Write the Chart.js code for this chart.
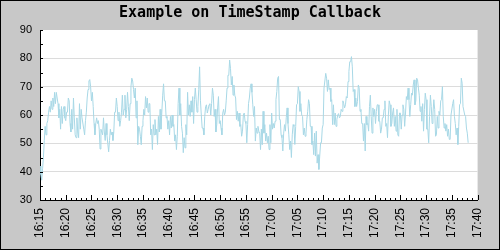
<!DOCTYPE html>
<html>
<head>
<meta charset="utf-8">
<script src="https://cdn.jsdelivr.net/npm/chart.js@4.4.1/dist/chart.umd.min.js"></script>
<style>
  html, body { margin: 0; padding: 0; background: #c8c8c8; }
  canvas { display: block; }
</style>
</head>
<body>
<canvas id="chart" width="500" height="250"></canvas>
<script>
const titleText = "Example on TimeStamp Callback";

// one reading every 10 seconds, starting at 16:15:00
const stepSeconds = 10;
const xTickLabels = ["16:15", "16:20", "16:25", "16:30", "16:35", "16:40", "16:45", "16:50", "16:55",
  "17:00", "17:05", "17:10", "17:15", "17:20", "17:25", "17:30", "17:35", "17:40"];
const yTickValues = [30, 40, 50, 60, 70, 80, 90];

// 16:15 - 16:36
const valuesPart1 = [
  42, 39, 37, 41, 45, 51, 56, 53, 57, 58, 61, 63, 61, 65, 62, 66, 63, 68, 64, 68,
  66, 64, 59, 62, 55, 63, 57, 62, 63, 59, 58, 61, 61, 66, 65, 57, 54, 62, 55, 66,
  59, 53, 52, 59, 54, 52, 64, 55, 62, 59, 59, 55, 53, 58, 61, 66, 69, 72, 72.5, 70,
  65, 68, 63, 57, 53, 57, 59, 57, 58, 55, 48, 55, 54, 53, 59, 54, 51, 57, 53, 50,
  47, 51, 55, 53, 54, 51, 54, 61, 61, 66, 63, 58, 61, 56, 58, 61, 67, 60, 62, 67,
  59, 62, 68, 63, 58, 64, 70, 73, 72, 69, 66, 69.5, 59, 65, 49.5, 56, 55, 52.5, 49.5, 56,
  58, 62, 60, 66.5, 62.5, 66, 61, 64
];
// 16:36 - 16:57
const valuesPart2 = [
  64, 53, 55, 47.8, 56.6, 53, 58.4, 53, 55, 49.6, 59.5, 54, 62, 55, 61, 67, 71, 65, 65, 59,
  59.5, 55, 58, 53, 59.5, 55.4, 60, 56, 56.6, 50.8, 53, 47.8, 52.5, 64, 69.5, 60, 64, 56, 53.6, 46.7,
  52, 48.4, 56.6, 53, 68, 60, 63.6, 59.5, 65, 61, 66.5, 57, 65.4, 69.5, 65.4, 61, 63, 69, 77, 65,
  60, 55.4, 55.4, 53, 59.5, 63, 63.6, 60.7, 62, 63.6, 64, 60, 64, 69.5, 67, 59.5, 62, 54, 56.6, 62.5,
  66.5, 57, 58, 55.4, 53, 60.7, 62, 60, 61, 65, 69.5, 74, 74, 79.4, 76.5, 70.6, 73.6, 67, 70.6, 67,
  66, 58.4, 61.3, 57.8, 60.7, 56, 56.6, 52.5, 54.3, 60, 60.7, 57.8, 57, 50.2, 56.6, 64, 66, 69.5, 71, 68,
  63.6, 59.5, 63, 50.8, 55.4, 53.6
];
// 16:57 - 17:18
const valuesPart3 = [
  56, 54.3, 53.6, 47.8, 55, 49.5, 61.3, 53.6, 56.6, 50.8, 53.6, 50.2, 52.5, 47.8, 56.6, 50.2, 60.7, 55, 57, 55.4,
  57.8, 65.4, 68.3, 73, 73.6, 58.4, 58.4, 53, 52, 47.3, 53.6, 56.6, 54.3, 59, 62.5, 57, 53, 47.8, 50.8, 45,
  53, 56.6, 56, 49.6, 56, 63.6, 64, 70, 68.3, 61.3, 64, 60, 59.5, 53, 55.4, 52.5, 53.6, 58.4, 61.3, 65.4,
  64, 56, 56, 49.6, 50.8, 46, 53.6, 45.5, 54.3, 43, 46, 40.8, 45.5, 50.2, 50.2, 55.4, 56.6, 69.5, 69.5, 74.7,
  73, 68.3, 72.4, 69, 69.5, 64.8, 65.4, 56.6, 63.6, 56.6, 60.7, 56, 58.4, 60, 60.5, 59, 59.5, 62, 61.3, 65,
  64, 62.5, 63.6, 66.5, 66, 71.8, 75.3, 78.8, 78.8, 80.6, 77, 68.3, 69, 63, 66, 63, 64.8, 70.6, 69.5, 61.3,
  62, 57, 57, 50.8, 57, 47.3
];
// 17:18 - 17:38
const valuesPart4 = [
  59.5, 56.6, 57, 54.3, 63, 67, 59.5, 53.6, 62.5, 59.5, 62, 57, 61.3, 63.6, 63.6, 57.8, 57.8, 53.6, 55, 59,
  59, 62, 65, 56, 57, 52, 60, 65, 63.6, 56, 57, 60.7, 62.5, 56, 59.5, 54.3, 62, 53, 52.5, 60.7,
  60.7, 55, 60, 63.6, 62, 56, 60.7, 66.5, 65.4, 69.5, 65.4, 59.5, 63.6, 67.7, 67, 70.6, 72.4, 63.6, 65, 73,
  72.4, 69.5, 67, 61.3, 63, 57.8, 64, 54.3, 62, 67.7, 65.4, 55, 55, 50.2, 59.5, 67, 63, 57, 60.7, 65.4,
  62, 52.5, 53, 59.5, 55.4, 61.3, 60, 65, 65.4, 70, 59.5, 55.4, 57, 54.3, 56.6, 52.5, 55, 51.4, 51.4, 60,
  60, 64, 65.4, 59.5, 57, 53, 55.4, 49.6, 56, 63.6, 64, 73, 71.2, 63, 63, 60, 59.5, 55.4, 53.6, 50.2
];

const values = valuesPart1.concat(valuesPart2, valuesPart3, valuesPart4);
const points = values.map((v, i) => ({ x: i * stepSeconds, y: v }));

Chart.defaults.font.family = "'Liberation Sans', Arial, sans-serif";
Chart.defaults.font.size = 11;
Chart.defaults.color = "#000";

// gray frame, white plot area, black outline
const framePlugin = {
  id: "frame",
  beforeDraw(chart) {
    const { ctx, chartArea: a } = chart;
    ctx.save();
    ctx.fillStyle = "#c8c8c8";
    ctx.fillRect(0, 0, chart.width, chart.height);
    ctx.fillStyle = "#fff";
    ctx.fillRect(a.left, a.top, a.right - a.left, a.bottom - a.top);
    ctx.strokeStyle = "#000";
    ctx.lineWidth = 1;
    ctx.strokeRect(0.5, 0.5, chart.width - 1, chart.height - 1);
    ctx.restore();
  },
  // tick marks pointing into the plot
  afterDraw(chart) {
    const { ctx, chartArea: a, scales } = chart;
    ctx.save();
    ctx.strokeStyle = "#000";
    ctx.lineWidth = 1;
    ctx.beginPath();
    scales.x.ticks.forEach(t => {
      const px = Math.round(scales.x.getPixelForValue(t.value)) + 0.5;
      const len = t.value % 300 === 0 ? 5 : 2;
      ctx.moveTo(px, a.bottom);
      ctx.lineTo(px, a.bottom - len);
    });
    scales.y.ticks.forEach(t => {
      const py = Math.round(scales.y.getPixelForValue(t.value)) + 0.5;
      ctx.moveTo(a.left, py);
      ctx.lineTo(a.left + 3, py);
    });
    ctx.stroke();
    ctx.restore();
  }
};

new Chart(document.getElementById("chart"), {
  type: "line",
  data: {
    datasets: [{
      data: points,
      borderColor: "#a8d8e6",
      borderWidth: 1,
      pointRadius: 0,
      tension: 0,
      fill: false
    }]
  },
  options: {
    responsive: false,
    animation: false,
    devicePixelRatio: 1,
    layout: { padding: 0 },
    plugins: {
      legend: { display: false },
      tooltip: { enabled: false },
      title: {
        display: true,
        text: titleText,
        color: "#000",
        font: { family: "'DejaVu Sans Mono', monospace", size: 15, weight: "bold" },
        padding: { top: 4, bottom: 8 }
      }
    },
    scales: {
      x: {
        type: "linear",
        min: 0,
        max: (xTickLabels.length - 1) * 300,
        grid: { display: false, drawTicks: false },
        border: { display: true, color: "#000", width: 1 },
        ticks: {
          stepSize: 60,
          autoSkip: false,
          minRotation: 90,
          maxRotation: 90,
          padding: 8,
          font: { size: 12 },
          callback: v => (v % 300 === 0 ? xTickLabels[v / 300] : "")
        },
        afterFit: s => { s.height = 50; }
      },
      y: {
        min: 30,
        max: 90,
        grid: {
          drawTicks: false,
          color: c => (c.tick && c.tick.value % 10 === 0 && c.tick.value > 30 && c.tick.value < 90) ? "#dcdcdc" : "rgba(0,0,0,0)"
        },
        border: { display: true, color: "#000", width: 1 },
        ticks: {
          stepSize: 5,
          autoSkip: false,
          padding: 8,
          callback: v => (yTickValues.includes(v) ? String(v) : "")
        },
        afterFit: s => { s.width = 40; }
      },
      yRight: {
        position: "right",
        display: true,
        grid: { display: false, drawTicks: false },
        border: { display: false },
        ticks: { display: false },
        afterFit: s => { s.width = 19; }
      }
    }
  },
  plugins: [framePlugin]
});
</script>
</body>
</html>
